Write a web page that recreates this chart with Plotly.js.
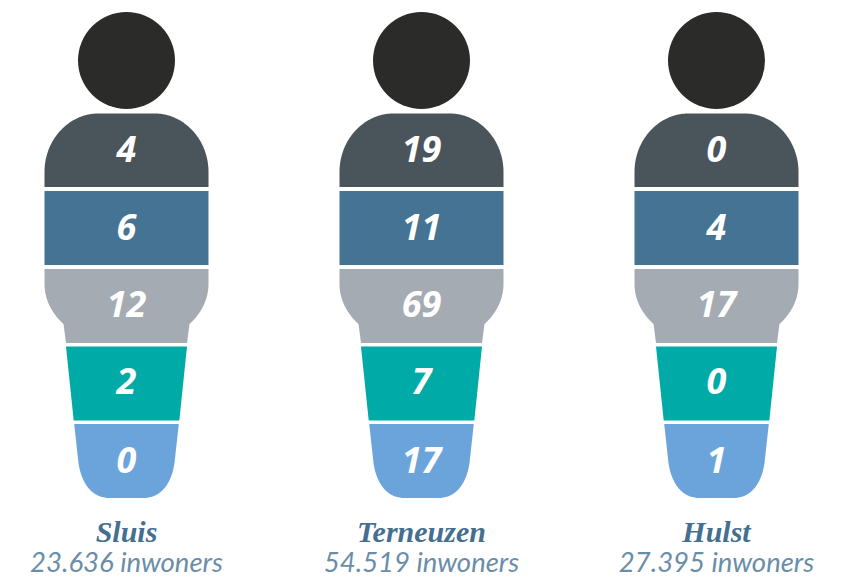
<!DOCTYPE html>
<html><head><meta charset="utf-8">
<script src="https://cdn.plot.ly/plotly-3.0.1.min.js"></script>
<style>html,body{margin:0;padding:0;background:#fff}#c{width:855px;height:577px}</style>
</head><body><div id="c"></div>
<script>
const regions = ["Sluis", "Terneuzen", "Hulst"];
const populations = ["23.636 inwoners", "54.519 inwoners", "27.395 inwoners"];
const band1 = [4, 19, 0];
const band2 = [6, 11, 4];
const band3 = [12, 69, 17];
const band4 = [2, 7, 0];
const band5 = [0, 17, 1];
const bandValues = [band1, band2, band3, band4, band5];
const bandColors = ["#4a555b", "#457393", "#a4abb2", "#00aba7", "#6ba4db"];
const headColor = "#2b2b29";
const centers = [126.5, 421.5, 716.5];

function bez(p0, p1, p2, p3, n) {
  const out = [];
  for (let i = 0; i <= n; i++) {
    const t = i / n, u = 1 - t;
    out.push([
      u*u*u*p0[0] + 3*u*u*t*p1[0] + 3*u*t*t*p2[0] + t*t*t*p3[0],
      u*u*u*p0[1] + 3*u*u*t*p1[1] + 3*u*t*t*p2[1] + t*t*t*p3[1]
    ]);
  }
  return out;
}
const halves = [
  [[0,113.5],...bez([28,113.5],[58,113.5],[82,140],[82,172],60),[82,187]],
  [[0,191],[82,191],[82,265]],
  [[0,269],[82,269],...bez([82,284],[82,302],[72,316],[63,324],40),[60.5,343]],
  [[0,346.5],[60.5,346.5],[52.8,420.5]],
  [[0,424],[52.3,424],...bez([48,463],[45,484],[34,498],[17,498],40),[0,498]]
];
const traces = [];
centers.forEach(function (cx) {
  halves.forEach(function (h, s) {
    const xs = h.map(p => cx + p[0]).concat(h.slice().reverse().map(p => cx - p[0]));
    const ys = h.map(p => p[1]).concat(h.slice().reverse().map(p => p[1]));
    traces.push({type:"scatter", mode:"lines", x:xs, y:ys, fill:"toself", fillcolor:bandColors[s],
      line:{width:0, color:bandColors[s], simplify:false}, hoverinfo:"skip", showlegend:false});
  });
});
traces.push({type:"scatter", mode:"markers", x:centers, y:centers.map(() => 60.5),
  marker:{size:97, color:headColor, line:{width:0}}, hoverinfo:"skip", showlegend:false});
const labelY = [152.5, 230.5, 308, 385, 463.5];
bandValues.forEach(function (vals, s) {
  traces.push({type:"scatter", mode:"text", x:centers, y:centers.map(() => labelY[s]),
    text:vals.map(String), textposition:"middle center", cliponaxis:false,
    textfont:{family:"'Open Sans', sans-serif", size:36, color:"#fff", weight:700, style:"italic"},
    hoverinfo:"skip", showlegend:false});
});
traces.push({type:"scatter", mode:"text", x:centers, y:centers.map(() => 534), text:regions,
  textposition:"middle center", cliponaxis:false,
  textfont:{family:"'Liberation Serif', serif", size:30, color:"#446f90", weight:700, style:"italic"},
  hoverinfo:"skip", showlegend:false});
traces.push({type:"scatter", mode:"text", x:centers, y:centers.map(() => 565), text:populations,
  textposition:"middle center", cliponaxis:false,
  textfont:{family:"Lato, 'Noto Sans', sans-serif", size:27.5, color:"#6a8ea8", style:"italic"},
  hoverinfo:"skip", showlegend:false});

const layout = {
  width:855, height:577, margin:{l:0,r:0,t:0,b:0},
  paper_bgcolor:"#fff", plot_bgcolor:"#fff", showlegend:false,
  xaxis:{range:[0,855], visible:false, fixedrange:true},
  yaxis:{range:[577,0], visible:false, fixedrange:true}
};
Plotly.newPlot("c", traces, layout, {displayModeBar:false, staticPlot:true});
</script></body></html>
